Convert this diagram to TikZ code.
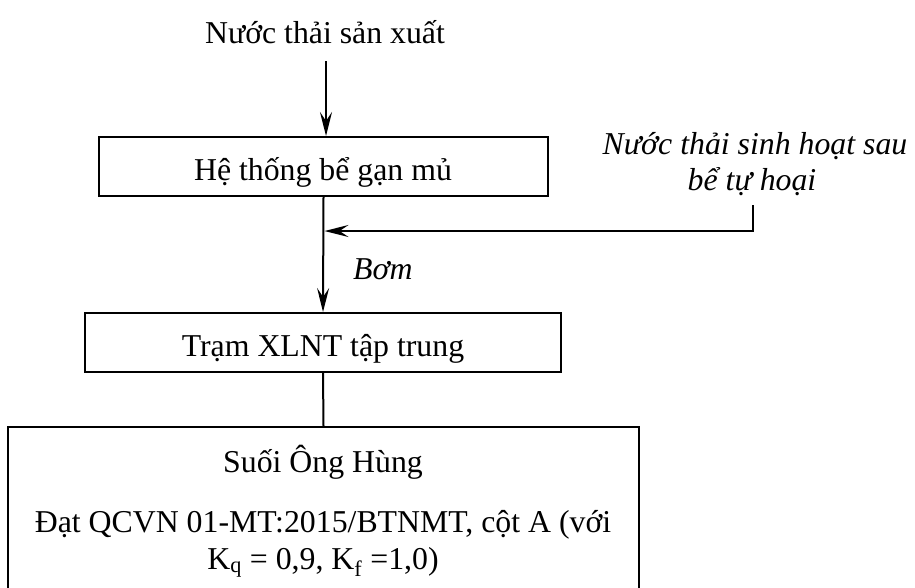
\documentclass[tikz,border=0pt]{standalone}
\usepackage{fontspec}
\setmainfont{Liberation Serif}
\usetikzlibrary{arrows.meta}
\begin{document}
\begin{tikzpicture}[x=1pt,y=-1pt,
  every node/.style={font=\fontsize{31.8}{38}\selectfont, inner sep=0pt},
  box/.style={draw, line width=2pt, minimum width=#1, inner sep=0pt},
  lbl/.style={anchor=base},
  arr/.style={line width=2pt, -{Stealth[length=24pt,width=12pt,inset=9pt]}},
  ln/.style={line width=2pt}]
\useasboundingbox (0,0) rectangle (915,587);

% process boxes
\node[box=449pt, minimum height=59pt] (b1) at (323.5,166.5) {};
\node[box=476pt, minimum height=59pt] (b2) at (323,342.5) {};
\node[box=631pt, minimum height=180pt] (b3) at (323.5,517) {};

% texts
\node[lbl] (src1) at (325,43) {Nước thải sản xuất};
\node[lbl] (t1) at (323,180) {Hệ thống bể gạn mủ};
\node[lbl] (t2) at (323,356) {Trạm XLNT tập trung};
\node[lbl] (t3a) at (323,472) {Suối Ông Hùng};
\node[lbl] (t3b) at (323,532) {Đạt QCVN 01-MT:2015/BTNMT, cột A (với};
\node[lbl] (t3c) at (323,569) {K\textsubscript{q} = 0,9, K\textsubscript{f} =1,0)};
\node[lbl, anchor=base west] (pump) at (353,279) {\itshape Bơm};
\node[lbl] (src2a) at (755,154) {\itshape Nước thải sinh hoạt sau};
\node[lbl] (src2b) at (752,190) {\itshape bể tự hoại};

% connector anchors
\coordinate (s1) at (326,61);
\coordinate (s2) at (753,205);
\coordinate (j) at (324.5,231);

% flow lines
\draw[arr] (s1) -- (s1 |- b1.north);
\draw[arr] (b1.south) -- (b2.north);
\draw[arr] (s2) |- (j);
\draw[ln] (b2.south) -- (b3.north);
\end{tikzpicture}
\end{document}
